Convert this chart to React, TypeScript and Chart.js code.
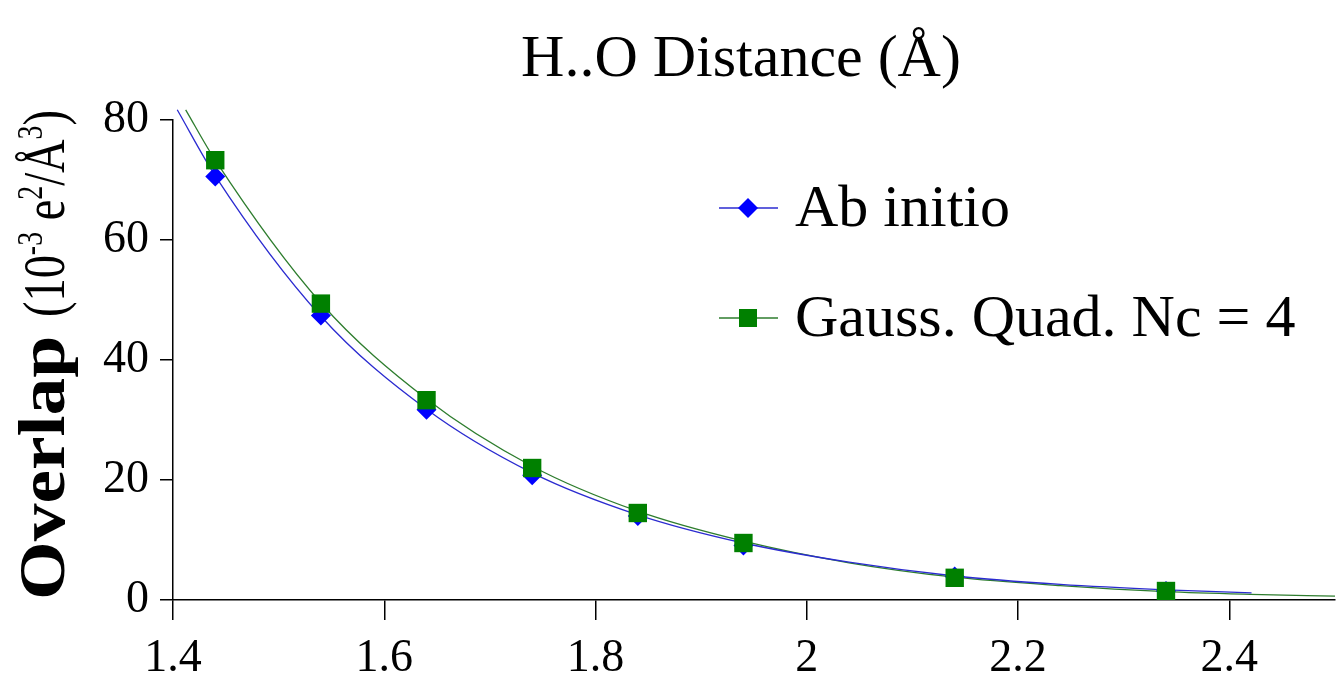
import React, { useEffect, useRef } from "react";
import { Chart, registerables } from "chart.js";

Chart.register(...registerables);

// ---- data ----
const distances = [1.44, 1.54, 1.64, 1.74, 1.84, 1.94, 2.14, 2.34];
const abInitio = [70.6, 47.4, 31.7, 20.8, 14.0, 9.1, 3.9, 1.5];
const gaussQuad = [73.3, 49.4, 33.3, 22.0, 14.5, 9.5, 3.7, 1.5];

// fitted trend curves as drawn in the reference
const abInitioFitX = [1.404, 1.44, 1.54, 1.64, 1.74, 1.84, 1.94, 2.04, 2.14, 2.24, 2.34, 2.421];
const abInitioFitY = [81.7, 70.7, 47.3, 31.8, 21.2, 14.2, 9.5, 6.3, 4.0, 2.6, 1.7, 1.2];
const gaussFitX = [1.412, 1.44, 1.54, 1.64, 1.74, 1.84, 1.94, 2.04, 2.14, 2.24, 2.34, 2.42, 2.5];
const gaussFitY = [81.7, 73.3, 49.5, 33.5, 22.3, 14.8, 9.8, 6.2, 3.8, 2.4, 1.4, 0.95, 0.65];

const xTicks = [1.4, 1.6, 1.8, 2, 2.2, 2.4];
const yTicks = [0, 20, 40, 60, 80];

const seriesLabels = ["Ab initio", "Gauss. Quad. Nc = 4"];
const xTitle = "H..O Distance (Å)";
const yTitleMain = "Overlap ";
const yTitleUnitSegments = [
  { text: "(10", sup: false },
  { text: "-3", sup: true },
  { text: " e", sup: false },
  { text: "2", sup: true },
  { text: "/Å", sup: false },
  { text: "3", sup: true },
  { text: ")", sup: false },
];

const SERIF = "'Liberation Serif', 'Times New Roman', serif";
const BLUE = "#0000ff";
const GREEN = "#008000";
const BLUE_LINE = "#2b2bd0";
const GREEN_LINE = "#2e7d2e";

const pts = (xs: number[], ys: number[]) => xs.map((x, i) => ({ x, y: ys[i] }));

const textPlugin = {
  id: "refText",
  afterDraw(chart: any) {
    const ctx = chart.ctx as CanvasRenderingContext2D;
    ctx.save();
    ctx.fillStyle = "#000";
    // title
    ctx.font = `60px ${SERIF}`;
    ctx.textAlign = "center";
    ctx.textBaseline = "alphabetic";
    ctx.fillText(xTitle, 741, 76);

    // y title (rotated)
    ctx.save();
    ctx.translate(64, 600);
    ctx.rotate(-Math.PI / 2);
    ctx.textAlign = "left";
    ctx.font = `bold 66px ${SERIF}`;
    const mainW = ctx.measureText(yTitleMain).width;
    const mainTarget = 283;
    ctx.save();
    ctx.scale(mainTarget / mainW, 1);
    ctx.fillText(yTitleMain, 0, 0);
    ctx.restore();
    let natural = 0;
    for (const seg of yTitleUnitSegments) {
      ctx.font = seg.sup ? `36px ${SERIF}` : `60px ${SERIF}`;
      natural += ctx.measureText(seg.text).width;
    }
    const unitTarget = 207;
    ctx.save();
    ctx.translate(mainTarget, 0);
    ctx.scale(unitTarget / natural, 1);
    let pos = 0;
    for (const seg of yTitleUnitSegments) {
      ctx.font = seg.sup ? `36px ${SERIF}` : `60px ${SERIF}`;
      ctx.fillText(seg.text, pos, seg.sup ? -22 : 0);
      pos += ctx.measureText(seg.text).width;
    }
    ctx.restore();
    ctx.restore();

    // legend
    const items = [
      { label: seriesLabels[0], color: BLUE, line: BLUE_LINE, style: "diamond", y: 208 },
      { label: seriesLabels[1], color: GREEN, line: GREEN_LINE, style: "square", y: 318 },
    ];
    for (const it of items) {
      ctx.strokeStyle = it.line;
      ctx.lineWidth = 1.5;
      ctx.beginPath();
      ctx.moveTo(719, it.y);
      ctx.lineTo(778, it.y);
      ctx.stroke();
      ctx.fillStyle = it.color;
      ctx.beginPath();
      if (it.style === "diamond") {
        ctx.moveTo(748, it.y - 10);
        ctx.lineTo(758, it.y);
        ctx.lineTo(748, it.y + 10);
        ctx.lineTo(738, it.y);
        ctx.closePath();
      } else {
        ctx.rect(739, it.y - 9, 18, 18);
      }
      ctx.fill();
      ctx.fillStyle = "#000";
      ctx.font = `60px ${SERIF}`;
      ctx.textAlign = "left";
      ctx.textBaseline = "middle";
      ctx.fillText(it.label, 795, it.y + 2);
    }
    ctx.restore();
  },
};

export default function App() {
  const ref = useRef<HTMLCanvasElement>(null);
  useEffect(() => {
    document.body.style.margin = "0";
    const chart = new Chart(ref.current as HTMLCanvasElement, {
      type: "scatter",
      data: {
        datasets: [
          {
            label: seriesLabels[1],
            data: pts(distances, gaussQuad),
            showLine: false,
            pointStyle: "rect",
            pointRadius: 13,
            pointBackgroundColor: GREEN,
            pointBorderColor: GREEN,
            pointBorderWidth: 0,
            order: 0,
          },
          {
            label: seriesLabels[0],
            data: pts(distances, abInitio),
            showLine: false,
            pointStyle: "rectRot",
            pointRadius: 10,
            pointBackgroundColor: BLUE,
            pointBorderColor: BLUE,
            pointBorderWidth: 0,
            order: 1,
          },
          {
            label: seriesLabels[0] + " fit",
            data: pts(abInitioFitX, abInitioFitY),
            showLine: true,
            pointRadius: 0,
            borderColor: BLUE_LINE,
            borderWidth: 1.3,
            cubicInterpolationMode: "monotone",
            clip: false,
            order: 2,
          },
          {
            label: seriesLabels[1] + " fit",
            data: pts(gaussFitX, gaussFitY),
            showLine: true,
            pointRadius: 0,
            borderColor: GREEN_LINE,
            borderWidth: 1.3,
            cubicInterpolationMode: "monotone",
            clip: false,
            order: 3,
          },
        ],
      },
      options: {
        animation: false,
        responsive: false,
        devicePixelRatio: 1,
        layout: { autoPadding: false, padding: { top: 120, right: 5, left: 0, bottom: 0 } },
        plugins: {
          legend: { display: false },
          title: { display: false },
          tooltip: { enabled: false },
        },
        scales: {
          x: {
            type: "linear",
            position: "bottom",
            min: 1.4,
            max: 2.5,
            afterBuildTicks: (axis: any) => {
              axis.ticks = xTicks.map((v) => ({ value: v }));
            },
            afterFit: (axis: any) => {
              axis.height = 89;
              axis.paddingLeft = 0;
              axis.paddingRight = 0;
            },
            ticks: {
              color: "#000",
              font: { family: SERIF, size: 46 },
              padding: 11,
              maxRotation: 0,
              autoSkip: false,
              callback: (v: any) => String(v),
            },
            grid: {
              display: true,
              drawOnChartArea: false,
              drawTicks: true,
              tickLength: 20,
              color: "#000",
              lineWidth: 1.5,
            },
            border: { display: true, color: "#000", width: 1.5 },
          },
          y: {
            type: "linear",
            min: 0,
            max: 80,
            afterBuildTicks: (axis: any) => {
              axis.ticks = yTicks.map((v) => ({ value: v }));
            },
            afterFit: (axis: any) => {
              axis.width = 173;
            },
            ticks: {
              color: "#000",
              font: { family: SERIF, size: 46 },
              padding: 11,
              callback: (v: any) => String(v),
            },
            grid: {
              display: true,
              drawOnChartArea: false,
              drawTicks: true,
              tickLength: 13,
              color: "#000",
              lineWidth: 1.5,
            },
            border: { display: true, color: "#000", width: 1.5 },
          },
        },
      },
      plugins: [textPlugin],
    } as any);
    return () => chart.destroy();
  }, []);
  return (
    <div style={{ width: 1340, height: 689, background: "#fff" }}>
      <canvas ref={ref} width={1340} height={689} style={{ display: "block" }} />
    </div>
  );
}
